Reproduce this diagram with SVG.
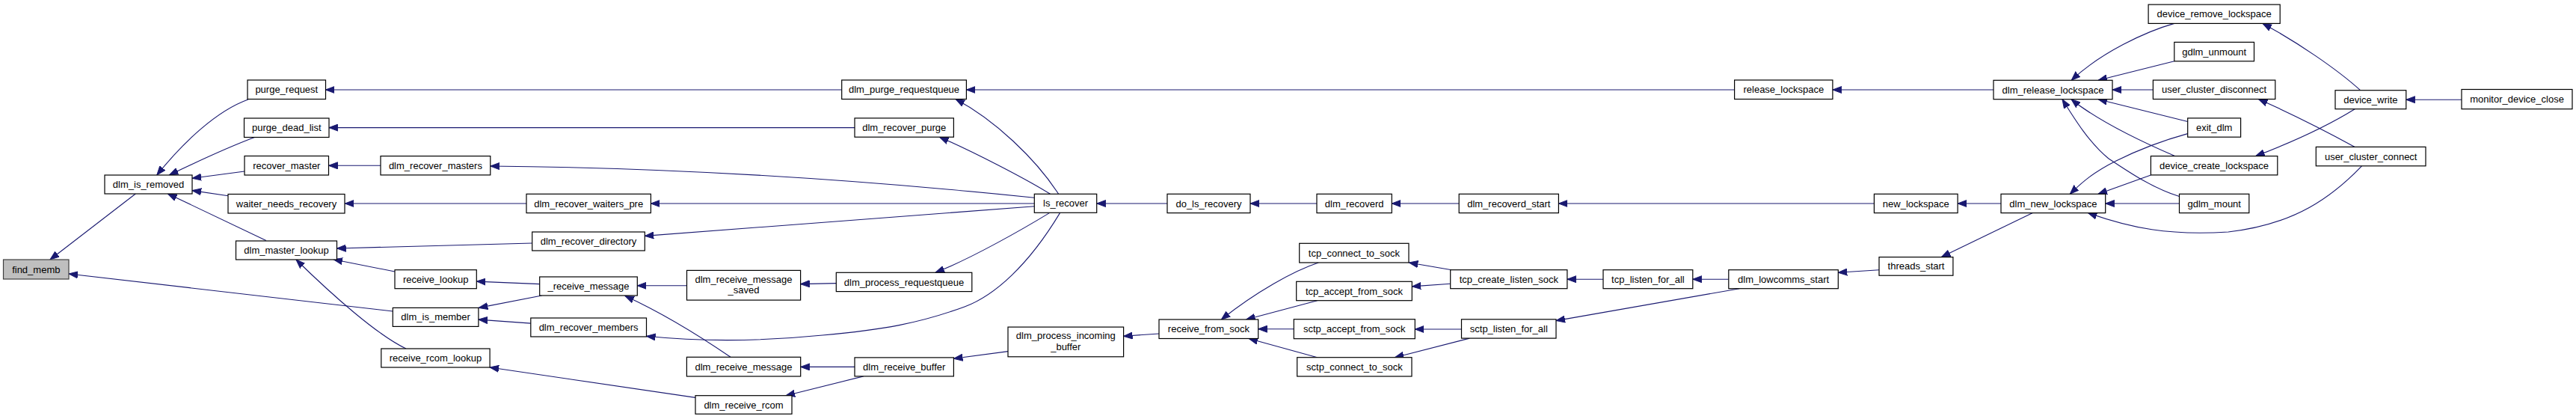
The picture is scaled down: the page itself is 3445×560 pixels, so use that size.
<svg xmlns="http://www.w3.org/2000/svg" width="3445" height="560" viewBox="0 0 3445 560">
<defs>
<marker id="ah" markerWidth="13" markerHeight="10" refX="12" refY="5" orient="auto" markerUnits="userSpaceOnUse"><path d="M0,0.5 L12,5 L0,9.5 Z" fill="#191970" stroke="#191970" stroke-width="1"/></marker>
<style>
.n rect{fill:#ffffff;stroke:#000000;stroke-width:1.2}
#find_memb rect{fill:#bfbfbf;stroke:#404040}
.n text{font-family:"Liberation Sans",Arial,Helvetica,sans-serif;font-size:13px;fill:#000000;text-anchor:middle}
#edges path{fill:none;stroke:#191970;stroke-width:1.1;marker-end:url(#ah)}
</style>
</defs>
<rect width="3445" height="560" fill="#ffffff"/>
<g id="edges">
<path d="M181.3,259 L67,347"/>
<path d="M525.3,416 L92,366"/>
<path d="M331.8,133 C290,148 245,190 209.8,234"/>
<path d="M340.4,183.6 C310,195 270,213 226.4,234"/>
<path d="M327,229 L257.1,238.2"/>
<path d="M305.2,261.8 L257.1,254.6"/>
<path d="M355.9,321.4 L224.5,259"/>
<path d="M711.7,325 L450.6,332"/>
<path d="M528,363 L446,346.8"/>
<path d="M543,466 C505,448 445,395 396,347"/>
<path d="M509,221.3 L439.5,221.3"/>
<path d="M1125.7,120 L435.4,120"/>
<path d="M1143,170.6 L439.9,170.6"/>
<path d="M704,272 L461.3,272"/>
<path d="M1383.3,264.3 C1150,240 900,224 655.8,222"/>
<path d="M1383.3,272 L870.4,272"/>
<path d="M1383.3,275.7 L862.3,315.4"/>
<path d="M721.7,379.6 L637.3,376.1"/>
<path d="M724.6,395 L640.3,411.4"/>
<path d="M709.8,432.1 L639.9,427.1"/>
<path d="M918.5,381.8 L852.3,381.8"/>
<path d="M977,477.3 C940,452 885,418 836,395.5"/>
<path d="M1417.5,284.6 C1375,355 1330,395 1290,410 C1230,432 1180,441 1100,448 C1030,455 950,458 864.5,449.3"/>
<path d="M1403.4,284.6 C1370,305 1300,345 1251,364.3"/>
<path d="M1404.5,259.3 C1370,238 1300,202 1256.5,183.2"/>
<path d="M1415.6,259.3 C1385,212 1330,160 1278,132.5"/>
<path d="M1118.3,378.6 L1070.6,379.6"/>
<path d="M1143,490.4 L1070.7,490.4"/>
<path d="M930,531.4 L655.1,491"/>
<path d="M1154.8,502.9 L1051,528.7"/>
<path d="M1561,272 L1466.7,272"/>
<path d="M2319.6,120 L1292.4,120"/>
<path d="M1348,469.6 L1275.4,479.3"/>
<path d="M1550,446 L1502.6,449.3"/>
<path d="M1763.3,351 C1730,362 1680,390 1633.3,427"/>
<path d="M1761.7,401.7 L1666.7,427"/>
<path d="M1730.3,439.7 L1682.7,439.7"/>
<path d="M1761.7,477.7 L1670,452.5"/>
<path d="M1761,272 L1672,272"/>
<path d="M1951.2,272 L1861.3,272"/>
<path d="M2506.4,272 L2084.4,272"/>
<path d="M1941.2,360.7 L1884.3,351"/>
<path d="M1939.7,379.3 L1888.3,382.9"/>
<path d="M2144,373.2 L2095.9,373.2"/>
<path d="M1954.5,440 L1892.3,440"/>
<path d="M1965.3,452.1 L1865.4,477.7"/>
<path d="M2311.8,373.2 L2263.8,373.2"/>
<path d="M2326.2,385.7 L2081,428.6"/>
<path d="M2666,120 L2450.9,120"/>
<path d="M2513,360.7 L2458.3,364.3"/>
<path d="M2676,272 L2618.1,272"/>
<path d="M2718.4,284.6 L2596.3,343.6"/>
<path d="M2907.8,31.4 C2870,42 2810,70 2770.2,107.3"/>
<path d="M2907.8,81.8 L2806,107.3"/>
<path d="M2879.4,120 L2825,120"/>
<path d="M2925.7,162.5 L2806,132.7"/>
<path d="M2908.5,208.6 C2870,192 2810,165 2770,132.7"/>
<path d="M2914.5,262.5 C2880,252 2850,232 2820,212 C2795,192 2775,160 2758,132.7"/>
<path d="M2876.4,233.9 L2806,259.3"/>
<path d="M2925.7,178.6 C2895,187 2860,200 2830,215 C2800,230 2785,243 2768.3,259.3"/>
<path d="M2914.5,272 L2815.7,272"/>
<path d="M3158.5,221.8 C3120,262 3070,300 2980,310 C2900,315 2850,305 2792.4,284.6"/>
<path d="M3156.6,120.7 C3125,92 3070,55 3026,31.4"/>
<path d="M3149.2,145.7 C3110,170 3060,192 3016.7,208.6"/>
<path d="M3149.2,196.4 C3110,175 3060,150 3020.4,132.5"/>
<path d="M3292,133.2 L3217.8,133.2"/>
</g>
<g id="find_memb" class="n"><rect x="4.5" y="347" width="87.5" height="26"/><text x="48.3" y="364.5">find_memb</text></g>
<g id="dlm_is_removed" class="n"><rect x="140" y="234" width="117" height="25"/><text x="198.5" y="251">dlm_is_removed</text></g>
<g id="purge_request" class="n"><rect x="331" y="107" width="104.5" height="25.5"/><text x="383.3" y="124.3">purge_request</text></g>
<g id="purge_dead_list" class="n"><rect x="326.5" y="158" width="113.5" height="25.5"/><text x="383.3" y="175.3">purge_dead_list</text></g>
<g id="recover_master" class="n"><rect x="327" y="208.5" width="112.5" height="25.5"/><text x="383.3" y="225.8">recover_master</text></g>
<g id="waiter_needs_recovery" class="n"><rect x="305" y="259.5" width="156" height="25.5"/><text x="383" y="276.8">waiter_needs_recovery</text></g>
<g id="dlm_master_lookup" class="n"><rect x="315.5" y="322" width="135" height="25"/><text x="383" y="339">dlm_master_lookup</text></g>
<g id="receive_lookup" class="n"><rect x="528" y="360.7" width="109.3" height="25"/><text x="582.7" y="377.7">receive_lookup</text></g>
<g id="dlm_is_member" class="n"><rect x="525.3" y="411.4" width="114.6" height="25"/><text x="582.6" y="428.4">dlm_is_member</text></g>
<g id="receive_rcom_lookup" class="n"><rect x="509.8" y="466" width="145.3" height="25"/><text x="582.5" y="483">receive_rcom_lookup</text></g>
<g id="dlm_recover_masters" class="n"><rect x="509" y="208.6" width="146.8" height="25.3"/><text x="582.4" y="225.8">dlm_recover_masters</text></g>
<g id="dlm_recover_waiters_pre" class="n"><rect x="704" y="259.3" width="166.4" height="25.3"/><text x="787.2" y="276.5">dlm_recover_waiters_pre</text></g>
<g id="dlm_recover_directory" class="n"><rect x="711.7" y="310" width="150.6" height="25"/><text x="787" y="327">dlm_recover_directory</text></g>
<g id="_receive_message" class="n"><rect x="721.7" y="370" width="130.6" height="25"/><text x="787" y="387">_receive_message</text></g>
<g id="dlm_recover_members" class="n"><rect x="709.8" y="425" width="154.7" height="25"/><text x="787.1" y="442">dlm_recover_members</text></g>
<g id="dlm_receive_message_saved" class="n"><rect x="918.5" y="361.4" width="152.1" height="39.7"/><text x="994.5" y="377.7">dlm_receive_message</text><text x="994.5" y="392.2">_saved</text></g>
<g id="dlm_receive_message" class="n"><rect x="918.4" y="477.3" width="152.3" height="25.7"/><text x="994.5" y="494.6">dlm_receive_message</text></g>
<g id="dlm_receive_rcom" class="n"><rect x="930" y="528.7" width="129" height="24.6"/><text x="994.5" y="545.5">dlm_receive_rcom</text></g>
<g id="dlm_purge_requestqueue" class="n"><rect x="1125.7" y="107" width="166.7" height="25.5"/><text x="1209" y="124.3">dlm_purge_requestqueue</text></g>
<g id="dlm_recover_purge" class="n"><rect x="1143" y="157.9" width="132.4" height="25.3"/><text x="1209.2" y="175.1">dlm_recover_purge</text></g>
<g id="dlm_process_requestqueue" class="n"><rect x="1118.3" y="364.3" width="181.5" height="25.3"/><text x="1209" y="381.5">dlm_process_requestqueue</text></g>
<g id="dlm_receive_buffer" class="n"><rect x="1143" y="477.9" width="132.4" height="25"/><text x="1209.2" y="494.9">dlm_receive_buffer</text></g>
<g id="ls_recover" class="n"><rect x="1383.3" y="259.3" width="83.4" height="25"/><text x="1425" y="276.3">ls_recover</text></g>
<g id="do_ls_recovery" class="n"><rect x="1561" y="259.3" width="111" height="25.3"/><text x="1616.5" y="276.5">do_ls_recovery</text></g>
<g id="dlm_process_incoming_buffer" class="n"><rect x="1348" y="437.1" width="154.6" height="39.7"/><text x="1425.3" y="452.9">dlm_process_incoming</text><text x="1425.3" y="467.6">_buffer</text></g>
<g id="receive_from_sock" class="n"><rect x="1550" y="427" width="132.7" height="25.5"/><text x="1616.4" y="444.3">receive_from_sock</text></g>
<g id="tcp_connect_to_sock" class="n"><rect x="1737.7" y="325.3" width="146.3" height="25.7"/><text x="1810.9" y="342.7">tcp_connect_to_sock</text></g>
<g id="tcp_accept_from_sock" class="n"><rect x="1733.7" y="376.3" width="154.6" height="25.4"/><text x="1811" y="393.5">tcp_accept_from_sock</text></g>
<g id="sctp_accept_from_sock" class="n"><rect x="1730.3" y="426.7" width="162" height="26"/><text x="1811.3" y="444.2">sctp_accept_from_sock</text></g>
<g id="sctp_connect_to_sock" class="n"><rect x="1734.7" y="477.7" width="153.3" height="25.3"/><text x="1811.4" y="494.9">sctp_connect_to_sock</text></g>
<g id="dlm_recoverd" class="n"><rect x="1761" y="259.3" width="100.3" height="25.3"/><text x="1811.2" y="276.5">dlm_recoverd</text></g>
<g id="dlm_recoverd_start" class="n"><rect x="1951.2" y="259.3" width="133.2" height="25.3"/><text x="2017.8" y="276.5">dlm_recoverd_start</text></g>
<g id="tcp_create_listen_sock" class="n"><rect x="1939.7" y="360.7" width="156.2" height="25"/><text x="2017.8" y="377.7">tcp_create_listen_sock</text></g>
<g id="tcp_listen_for_all" class="n"><rect x="2144" y="360.7" width="119.8" height="25"/><text x="2203.9" y="377.7">tcp_listen_for_all</text></g>
<g id="sctp_listen_for_all" class="n"><rect x="1954.5" y="426.8" width="126.5" height="25.3"/><text x="2017.8" y="444">sctp_listen_for_all</text></g>
<g id="release_lockspace" class="n"><rect x="2319.6" y="107" width="131.3" height="25.5"/><text x="2385.3" y="124.3">release_lockspace</text></g>
<g id="dlm_release_lockspace" class="n"><rect x="2666" y="107.3" width="159" height="25.4"/><text x="2745.5" y="124.5">dlm_release_lockspace</text></g>
<g id="new_lockspace" class="n"><rect x="2506.4" y="259.3" width="111.7" height="25.3"/><text x="2562.3" y="276.5">new_lockspace</text></g>
<g id="dlm_new_lockspace" class="n"><rect x="2676" y="259.3" width="139.7" height="25.3"/><text x="2745.9" y="276.5">dlm_new_lockspace</text></g>
<g id="threads_start" class="n"><rect x="2513" y="343.6" width="98.9" height="24.6"/><text x="2562.5" y="360.4">threads_start</text></g>
<g id="dlm_lowcomms_start" class="n"><rect x="2311.8" y="360.7" width="146.5" height="25"/><text x="2385.1" y="377.7">dlm_lowcomms_start</text></g>
<g id="device_remove_lockspace" class="n"><rect x="2873.1" y="6.1" width="176.1" height="25.3"/><text x="2961.2" y="23.3">device_remove_lockspace</text></g>
<g id="gdlm_unmount" class="n"><rect x="2907.8" y="56.4" width="106.7" height="25.4"/><text x="2961.2" y="73.6">gdlm_unmount</text></g>
<g id="user_cluster_disconnect" class="n"><rect x="2879.4" y="107.1" width="163.4" height="25.4"/><text x="2961.1" y="124.3">user_cluster_disconnect</text></g>
<g id="exit_dlm" class="n"><rect x="2925.7" y="157.9" width="70.9" height="25.3"/><text x="2961.2" y="175.1">exit_dlm</text></g>
<g id="device_create_lockspace" class="n"><rect x="2876.4" y="208.6" width="169.4" height="25.3"/><text x="2961.1" y="225.8">device_create_lockspace</text></g>
<g id="gdlm_mount" class="n"><rect x="2914.5" y="259.3" width="93.3" height="25.3"/><text x="2961.2" y="276.5">gdlm_mount</text></g>
<g id="device_write" class="n"><rect x="3123" y="120.7" width="94.8" height="25"/><text x="3170.4" y="137.7">device_write</text></g>
<g id="user_cluster_connect" class="n"><rect x="3097.3" y="196.4" width="146.7" height="25.4"/><text x="3170.7" y="213.6">user_cluster_connect</text></g>
<g id="monitor_device_close" class="n"><rect x="3292" y="119.5" width="148" height="26.2"/><text x="3366" y="137.1">monitor_device_close</text></g>
</svg>
